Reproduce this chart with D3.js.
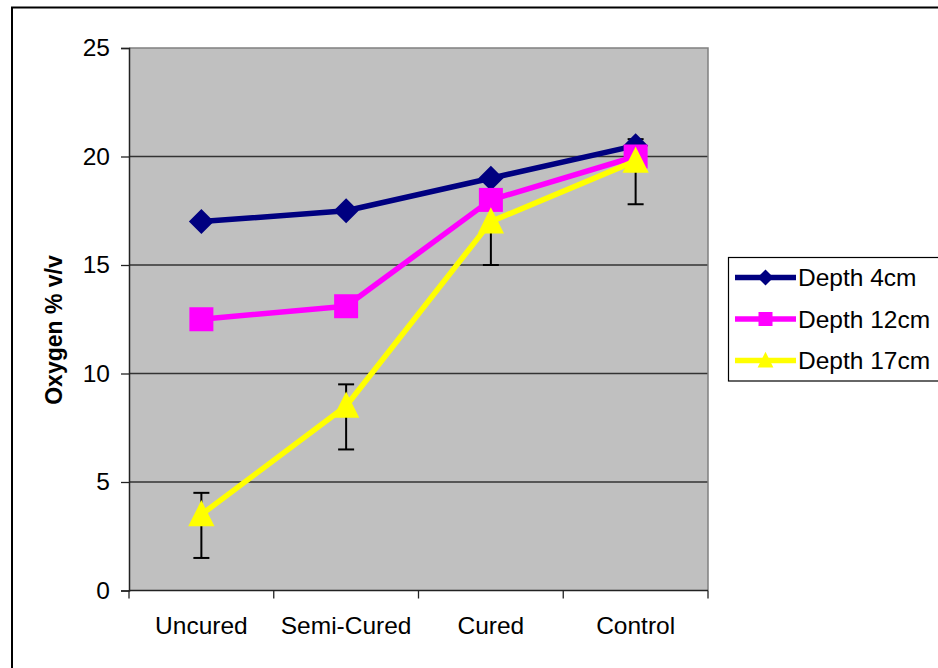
<!DOCTYPE html>
<html>
<head>
<meta charset="utf-8">
<script src="https://cdn.jsdelivr.net/npm/d3@7/dist/d3.min.js"></script>
<style>
  html, body { margin: 0; padding: 0; background: #fff; }
  svg { display: block; font-family: Arial, "Liberation Sans", sans-serif; }
</style>
</head>
<body>
<svg id="chart" width="938" height="668"></svg>
<script>
// ---- data ----
const categories = ["Uncured", "Semi-Cured", "Cured", "Control"];
const depth4 = [17.0, 17.5, 19.0, 20.5];
const depth12 = [12.5, 13.1, 18.0, 20.0];
const depth17 = [3.5, 8.5, 17.0, 19.8];
const depth17ErrPlus = [1.0, 1.0, 1.0, 1.0];
const depth17ErrMinus = [2.0, 2.0, 2.0, 2.0];
const seriesNames = ["Depth 4cm", "Depth 12cm", "Depth 17cm"];
const yTicks = [0, 5, 10, 15, 20, 25];
const yTitle = "Oxygen % v/v";

const series = [
  { name: seriesNames[0], values: depth4, color: "#000080", marker: "diamond" },
  { name: seriesNames[1], values: depth12, color: "#FF00FF", marker: "square" },
  { name: seriesNames[2], values: depth17, color: "#FFFF00", marker: "triangle",
    errPlus: depth17ErrPlus, errMinus: depth17ErrMinus }
];

const svg = d3.select("#chart");
const plot = { left: 129, right: 708, top: 48, bottom: 590.5 };

// outer chart border
svg.append("rect").attr("x", 12).attr("y", 7.5).attr("width", 1000).attr("height", 700)
  .attr("fill", "none").attr("stroke", "#000").attr("stroke-width", 2);

const x = d3.scaleBand().domain(categories).range([plot.left, plot.right]).padding(0);
const y = d3.scaleLinear().domain([0, 25]).range([plot.bottom, plot.top]);
const cx = c => x(c) + x.bandwidth() / 2;

// plot background
svg.append("rect").attr("x", plot.left).attr("y", plot.top)
  .attr("width", plot.right - plot.left).attr("height", plot.bottom - plot.top)
  .attr("fill", "#C0C0C0");

// gridlines
svg.append("g").selectAll("line").data(yTicks.filter(t => t > 0 && t < 25)).join("line")
  .attr("x1", plot.left).attr("x2", plot.right)
  .attr("y1", d => y(d)).attr("y2", d => y(d))
  .attr("stroke", "#333").attr("stroke-width", 1.3);

// plot border top/right (gray)
svg.append("path")
  .attr("d", `M${plot.left},${plot.top}H${plot.right}V${plot.bottom}`)
  .attr("fill", "none").attr("stroke", "#808080").attr("stroke-width", 1.5);

// y axis
const yAxis = d3.axisLeft(y).tickValues(yTicks).tickSize(8).tickPadding(11).tickFormat(d3.format("d"));
const gy = svg.append("g").attr("transform", `translate(${plot.left},0)`).call(yAxis);
gy.select(".domain").attr("stroke", "#222").attr("stroke-width", 1.5);
gy.selectAll(".tick line").attr("stroke", "#222").attr("stroke-width", 1.3);
gy.selectAll(".tick text").attr("font-size", "24.5px").attr("fill", "#000")
  .attr("font-family", "Arial, 'Liberation Sans', sans-serif");

// x axis: ticks at category boundaries
const xAxisG = svg.append("g");
xAxisG.append("line").attr("x1", plot.left).attr("x2", plot.right)
  .attr("y1", plot.bottom).attr("y2", plot.bottom)
  .attr("stroke", "#222").attr("stroke-width", 1.5);
const boundaries = categories.map(c => x(c)).concat([x(categories[categories.length - 1]) + x.bandwidth()]);
xAxisG.selectAll("line.tk").data(boundaries).join("line").attr("class", "tk")
  .attr("x1", d => d).attr("x2", d => d)
  .attr("y1", plot.bottom).attr("y2", plot.bottom + 8)
  .attr("stroke", "#222").attr("stroke-width", 1.3);
xAxisG.selectAll("text").data(categories).join("text")
  .attr("x", d => cx(d)).attr("y", 634)
  .attr("text-anchor", "middle").attr("font-size", "24.5px").attr("fill", "#000")
  .text(d => d);

// y title
svg.append("text")
  .attr("transform", `translate(62,330) rotate(-90)`)
  .attr("text-anchor", "middle").attr("font-size", "23px").attr("font-weight", "bold")
  .attr("fill", "#000").text(yTitle);

// marker shapes
function markerPath(type, s) {
  if (type === "diamond") return `M0,${-s}L${s},0L0,${s}L${-s},0Z`;
  if (type === "square") return `M${-s},${-s}H${s}V${s}H${-s}Z`;
  // triangle
  const h = s * 2.1;
  return `M0,${-h * 0.55}L${s * 1.05},${h * 0.45}L${-s * 1.05},${h * 0.45}Z`;
}
const markerSize = { diamond: 12.5, square: 12, triangle: 12.5 };

// error bars (drawn below series)
const errS = series[2];
const eg = svg.append("g");
categories.forEach((c, i) => {
  const v = errS.values[i];
  const hi = v + errS.errPlus[i], lo = v - errS.errMinus[i];
  eg.append("line").attr("x1", cx(c)).attr("x2", cx(c)).attr("y1", y(hi)).attr("y2", y(lo))
    .attr("stroke", "#000").attr("stroke-width", 2);
  [hi, lo].forEach(e => eg.append("line").attr("x1", cx(c) - 8).attr("x2", cx(c) + 8)
    .attr("y1", y(e)).attr("y2", y(e)).attr("stroke", "#000").attr("stroke-width", 2));
});

// series
const line = d3.line().x((d, i) => cx(categories[i])).y(d => y(d));
series.forEach(s => {
  svg.append("path").datum(s.values).attr("d", line)
    .attr("fill", "none").attr("stroke", s.color).attr("stroke-width", 5.5)
    .attr("stroke-linejoin", "round");
  svg.append("g").selectAll("path").data(s.values).join("path")
    .attr("transform", (d, i) => `translate(${cx(categories[i])},${y(d)})`)
    .attr("d", markerPath(s.marker, markerSize[s.marker]))
    .attr("fill", s.color);
});

// legend
const lg = svg.append("g");
lg.append("rect").attr("x", 728.5).attr("y", 257.5).attr("width", 220).attr("height", 123.5)
  .attr("fill", "#fff").attr("stroke", "#000").attr("stroke-width", 1.2);
const legendY = [277.5, 319, 360.5];
const legendMarker = { diamond: 8, square: 7, triangle: 7.5 };
series.forEach((s, i) => {
  const ly = legendY[i];
  lg.append("line").attr("x1", 735).attr("x2", 796).attr("y1", ly).attr("y2", ly)
    .attr("stroke", s.color).attr("stroke-width", 5.5);
  lg.append("path").attr("transform", `translate(765.5,${ly})`)
    .attr("d", markerPath(s.marker, legendMarker[s.marker])).attr("fill", s.color);
  lg.append("text").attr("x", 798).attr("y", ly + 8.5).attr("font-size", "24.5px")
    .attr("fill", "#000").text(s.name);
});
</script>
</body>
</html>
